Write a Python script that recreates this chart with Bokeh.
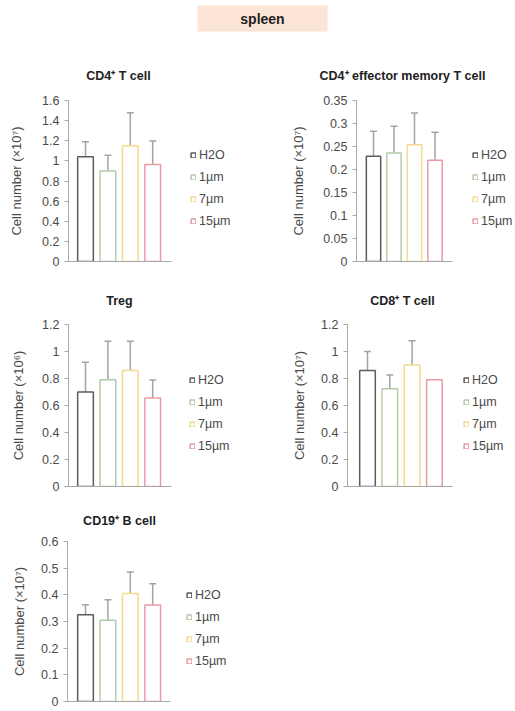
from bokeh.plotting import figure
from bokeh.models import (ColumnDataSource, Whisker, TeeHead, Legend, LegendItem, Label,
                          FixedTicker, CustomJSTickFormatter, Range1d)
from bokeh.layouts import column, row
from bokeh.embed import file_html
from bokeh.resources import INLINE

# ---------------- data ----------------
CATEGORIES = ["H2O", "1µm", "7µm", "15µm"]
BAR_COLORS = ["#5c5c5c", "#b3cca8", "#f4da8e", "#e79ca5"]

CD4_T = [1.04, 0.90, 1.15, 0.965]
CD4_T_ERR = [0.15, 0.155, 0.328, 0.232]
CD4_T_TICKS = [0, 0.2, 0.4, 0.6, 0.8, 1, 1.2, 1.4, 1.6]

CD4_EM = [0.229, 0.236, 0.254, 0.220]
CD4_EM_ERR = [0.054, 0.058, 0.069, 0.061]
CD4_EM_TICKS = [0, 0.05, 0.1, 0.15, 0.2, 0.25, 0.3, 0.35]

TREG = [0.70, 0.79, 0.86, 0.655]
TREG_ERR = [0.22, 0.286, 0.216, 0.133]
TREG_TICKS = [0, 0.2, 0.4, 0.6, 0.8, 1, 1.2]

CD8_T = [0.86, 0.724, 0.90, 0.79]
CD8_T_ERR = [0.14, 0.102, 0.18, 0.0]
CD8_T_TICKS = [0, 0.2, 0.4, 0.6, 0.8, 1, 1.2]

CD19_B = [0.325, 0.305, 0.405, 0.362]
CD19_B_ERR = [0.038, 0.077, 0.081, 0.080]
CD19_B_TICKS = [0, 0.1, 0.2, 0.3, 0.4, 0.5, 0.6]

FONT = "Liberation Sans"
AXIS_GRAY = "#a8a8a8"
ERR_GRAY = "#a3a3a3"
TEXT_GRAY = "#4a4a4a"
PAGE_W = 515


def blank(width, height):
    p = figure(width=width, height=height, x_range=Range1d(0, width), y_range=Range1d(0, height),
               output_backend="svg", toolbar_location=None,
               x_axis_location=None, y_axis_location=None, min_border=0)
    p.title.visible = False
    p.outline_line_color = None
    p.xgrid.visible = False
    p.ygrid.visible = False
    return p


def make_panel(ylabel, values, errors, ticks, g):
    ymax = ticks[-1]
    fx, fy, fw, fh = g["fig"]
    left = round(g["axis_x"] - fx)
    top = round(g["ytop"] - fy)
    bottom = round(fy + fh - g["y0"])
    frame_w = fw - left
    ppu = g["ppu"]
    x0 = 1 - (g["first"] - g["axis_x"]) / ppu
    x1 = x0 + frame_w / ppu
    axis_end = x0 + (g["axis_end"] - g["axis_x"]) / ppu

    xs = list(range(1, len(CATEGORIES) + 1))
    src = ColumnDataSource(dict(x=xs, cat=CATEGORIES, val=values, color=BAR_COLORS))

    p = figure(width=fw, height=fh,
               x_range=Range1d(x0, x1), y_range=Range1d(0, ymax),
               output_backend="svg", toolbar_location=None,
               min_border_left=left, min_border_right=0,
               min_border_top=top, min_border_bottom=bottom)
    p.title.visible = False
    p.outline_line_color = None
    p.xgrid.visible = False
    p.ygrid.visible = False
    p.background_fill_color = "white"
    p.border_fill_color = "white"

    r = p.vbar(x="x", top="val", bottom=0, width=0.7, source=src,
               fill_color="white", line_color="color", line_width=1.5)

    wx, wlo, whi = [], [], []
    for x, v, e in zip(xs, values, errors):
        if e > 0:
            wx.append(x)
            wlo.append(v)
            whi.append(v + e)
    wsrc = ColumnDataSource(dict(x=wx, lo=wlo, hi=whi))
    w = Whisker(source=wsrc, base="x", lower="lo", upper="hi", dimension="height",
                line_color=ERR_GRAY, line_width=1.5,
                upper_head=TeeHead(size=7, line_color=ERR_GRAY, line_width=1.5),
                lower_head=None)
    p.add_layout(w)

    ya = p.yaxis[0]
    ya.bounds = (0, ymax)
    ya.ticker = FixedTicker(ticks=ticks, minor_ticks=[])
    ya.formatter = CustomJSTickFormatter(code="return String(Math.round(tick*1000)/1000);")
    ya.axis_line_color = AXIS_GRAY
    ya.major_tick_line_color = AXIS_GRAY
    ya.major_tick_out = 4
    ya.major_tick_in = 0
    ya.minor_tick_line_color = None
    ya.major_label_text_font = FONT
    ya.major_label_text_font_size = "12.5px"
    ya.major_label_text_color = TEXT_GRAY
    ya.major_label_standoff = 5
    ya.axis_label = ylabel
    ya.axis_label_text_font = FONT
    ya.axis_label_text_font_size = "13px"
    ya.axis_label_text_font_style = "normal"
    ya.axis_label_text_color = TEXT_GRAY
    ya.axis_label_standoff = g["lab_standoff"]

    xa = p.xaxis[0]
    xa.bounds = (x0, axis_end)
    xa.ticker = FixedTicker(ticks=[], minor_ticks=[])
    xa.axis_line_color = AXIS_GRAY
    xa.major_tick_out = 0
    xa.major_tick_in = 0
    xa.minor_tick_out = 0
    xa.minor_tick_in = 0
    xa.major_label_standoff = 0
    xa.major_label_text_font_size = "0px"

    items = [LegendItem(label=c, renderers=[r], index=i) for i, c in enumerate(CATEGORIES)]
    leg = Legend(items=items, location=(round(g["leg"] - g["axis_x"]), 33),
                 orientation="vertical",
                 glyph_width=6, glyph_height=6, label_standoff=3, spacing=8,
                 label_height=14, padding=0, margin=0,
                 border_line_color=None, background_fill_alpha=0,
                 label_text_font=FONT, label_text_font_size="12.5px",
                 label_text_color=TEXT_GRAY)
    p.add_layout(leg)
    return p


def title_strip(top, height, titles):
    """Strip holding the bold panel titles; titles = [(center_x, center_y, text)] in page px."""
    p = blank(PAGE_W, height)
    for cx, cy, txt in titles:
        p.add_layout(Label(x=cx, y=height - (cy - top), text=txt,
                           text_align="center", text_baseline="middle",
                           text_font=FONT, text_font_size="12.5px",
                           text_font_style="bold", text_color="#222222"))
    return p


# header "spleen" box (page y 0..35)
HEADER_H = 35
header = blank(PAGE_W, HEADER_H)
header.quad(left=197, right=327, bottom=HEADER_H - 31, top=HEADER_H - 5,
            fill_color="#fce4d6", line_color=None)
header.add_layout(Label(x=262, y=HEADER_H - 18, text="spleen", text_align="center",
                        text_baseline="middle", text_font=FONT, text_font_size="14px",
                        text_font_style="bold", text_color="#222222"))

G1 = dict(fig=(0, 88, 260, 190), axis_x=68, axis_end=171, y0=261, ytop=100,
          first=85, ppu=22.4, leg=190, lab_standoff=15)
G2 = dict(fig=(260, 88, 255, 190), axis_x=356, axis_end=452, y0=261, ytop=100,
          first=373, ppu=20.5, leg=472, lab_standoff=14)
G3 = dict(fig=(0, 312, 260, 186), axis_x=68, axis_end=171, y0=486, ytop=324,
          first=85, ppu=22.4, leg=189, lab_standoff=13)
G4 = dict(fig=(260, 312, 255, 186), axis_x=347, axis_end=452, y0=486, ytop=324,
          first=367, ppu=22.3, leg=463, lab_standoff=11)
G5 = dict(fig=(0, 528, 260, 183), axis_x=67, axis_end=170, y0=701, ytop=541,
          first=85, ppu=22.4, leg=186, lab_standoff=11)

p1 = make_panel("Cell number (×10⁷)", CD4_T, CD4_T_ERR, CD4_T_TICKS, G1)
p2 = make_panel("Cell number (×10⁷)", CD4_EM, CD4_EM_ERR, CD4_EM_TICKS, G2)
p3 = make_panel("Cell number (×10⁶)", TREG, TREG_ERR, TREG_TICKS, G3)
p4 = make_panel("Cell number (×10⁷)", CD8_T, CD8_T_ERR, CD8_T_TICKS, G4)
p5 = make_panel("Cell number (×10⁷)", CD19_B, CD19_B_ERR, CD19_B_TICKS, G5)

t1 = title_strip(35, 53, [(118, 75, "CD4⁺ T cell"), (402, 75, "CD4⁺ effector memory T cell")])
t2 = title_strip(278, 34, [(119, 300, "Treg"), (402, 300, "CD8⁺ T cell")])
t3 = title_strip(498, 30, [(119, 520, "CD19⁺ B cell")])

layout = column(row(header), row(t1), row(p1, p2), row(t2), row(p3, p4), row(t3), row(p5),
                spacing=0)

with open("out.html", "w") as f:
    f.write(file_html(layout, INLINE))
